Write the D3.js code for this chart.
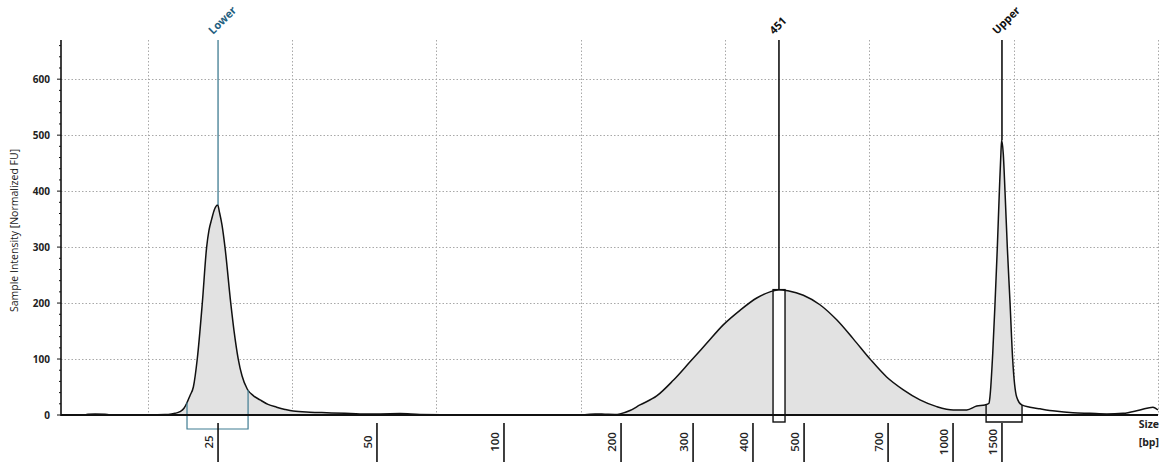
<!DOCTYPE html>
<html>
<head>
<meta charset="utf-8">
<script src="https://cdn.jsdelivr.net/npm/d3@7"></script>
<style>
  html, body { margin: 0; padding: 0; background: #fff; }
  svg { display: block; font-family: "Open Sans", "Noto Sans", sans-serif; }
</style>
</head>
<body>
<svg id="chart" width="1169" height="462"></svg>
<script>
// ---- Data (migration position in run units, intensity in normalized FU) ----
const traceX = [0.566,0.587,0.636,0.705,0.739,0.878,1.017,1.120,1.155,1.190,1.224,1.252,1.271,1.294,1.317,1.344,1.379,1.409,1.425,1.444,1.463,1.486,1.498,1.515,1.536,1.576,1.599,1.628,1.654,1.691,1.730,1.779,1.834,1.894,1.952,2.009,2.125,2.241,2.368,2.471,2.610,2.749,2.887,3.095,3.441,3.788,4.030,4.100,4.169,4.238,4.273,4.342,4.411,4.527,4.642,4.758,4.873,4.988,5.104,5.220,5.312,5.374,5.436,5.543,5.658,5.774,5.889,6.005,6.120,6.236,6.351,6.467,6.582,6.675,6.744,6.801,6.829,6.836,6.855,6.871,6.887,6.901,6.912,6.917,6.928,6.940,6.956,6.975,6.993,7.021,7.056,7.113,7.183,7.286,7.411,7.529,7.645,7.758,7.875,7.965,8.000];
const traceY = [0,1.5,2,1.5,0.5,0.5,0.5,1,1.5,3,6,12,21,35,50,100,200,300,330,350,367,375,362,340,300,200,150,100,70,46,35,27,19,14,10,7,5,4,3,2,2,2.5,1,0.5,0.5,0.5,0.5,2,1.5,1,2,8,18,34,62,95,128,161,187,209,220,224,222,214,197,170,136,100,68,45,27,15,9,9,16,18,21,33,110,200,300,400,470,491,467,400,300,200,100,32,18,14,11,7,4,3,2,3,9,14,9];

// Ladder: fragment size (bp) and its migration position
const ladderSizes = [25, 50, 100, 200, 300, 400, 500, 700, 1000, 1500];
const ladderPositions = [1.488, 2.589, 3.469, 4.280, 4.779, 5.194, 5.548, 6.130, 6.580, 6.919];

// Peaks and their integration regions
const peakNames = ["Lower", "451", "Upper"];
const peakPositions = [1.488, 5.374, 6.919];
const peakHeights = [375, 224, 491];
const regionStarts = [1.273, 5.333, 6.809];
const regionEnds = [1.696, 5.416, 7.058];

const yTicks = [0, 100, 200, 300, 400, 500, 600];
const gridPositions = [1, 2, 3, 4, 5, 6, 7, 8];
const yTitle = "Sample Intensity [Normalized FU]";

// ---- Layout ----
const svg = d3.select("#chart");
const pL = 61, pR = 1158, pT = 40, pB = 415;
const x = d3.scaleLinear().domain([0.4, 8.0]).range([pL, pR]);
const y = d3.scaleLinear().domain([0, 670]).range([pB, pT]);

const teal = "#3f7c92", tealText = "#1f6080", ink = "#111";

function interpTrace(p) {
  const i = d3.bisectLeft(traceX, p);
  if (i <= 0) return traceY[0];
  if (i >= traceX.length) return traceY[traceY.length - 1];
  const t = (p - traceX[i - 1]) / (traceX[i] - traceX[i - 1]);
  return traceY[i - 1] + t * (traceY[i] - traceY[i - 1]);
}

svg.append("rect").attr("width", 1169).attr("height", 462).attr("fill", "#fff");

// Grid
const grid = svg.append("g").attr("stroke", "#a8a8a8").attr("stroke-width", 1).attr("stroke-dasharray", "1.5,2");
grid.selectAll("line.h").data(yTicks.filter(d => d > 0)).join("line").attr("class", "h")
  .attr("x1", pL).attr("x2", pR)
  .attr("y1", d => Math.round(y(d)) + 0.5).attr("y2", d => Math.round(y(d)) + 0.5);
grid.selectAll("line.v").data(gridPositions).join("line").attr("class", "v")
  .attr("x1", d => Math.round(x(d)) + 0.5).attr("x2", d => Math.round(x(d)) + 0.5)
  .attr("y1", pT).attr("y2", pB);

// Trace area
const pts = traceX.map((d, i) => [d, traceY[i]]);
const fillPts = pts.filter(p => p[0] <= regionEnds[2] + 0.005);
svg.append("path").datum(fillPts)
  .attr("fill", "#e2e2e2")
  .attr("d", d3.area().x(d => x(d[0])).y0(y(0)).y1(d => y(d[1])).curve(d3.curveMonotoneX));

// Region for 451 (white box)
svg.append("rect")
  .attr("x", x(regionStarts[1])).attr("width", x(regionEnds[1]) - x(regionStarts[1]))
  .attr("y", y(interpTrace(peakPositions[1])))
  .attr("height", pB + 7 - y(interpTrace(peakPositions[1])))
  .attr("fill", "#fff").attr("stroke", ink).attr("stroke-width", 1.4);

// Trace line
svg.append("path").datum(pts)
  .attr("fill", "none").attr("stroke", ink).attr("stroke-width", 1.5)
  .attr("d", d3.line().x(d => x(d[0])).y(d => y(d[1])).curve(d3.curveMonotoneX));

// Brackets for Lower and Upper
[0, 2].forEach(k => {
  const col = k === 0 ? teal : ink;
  const yb = k === 0 ? pB + 14 : pB + 7;
  const xs = x(regionStarts[k]), xe = x(regionEnds[k]);
  svg.append("path")
    .attr("fill", "none").attr("stroke", col).attr("stroke-width", k === 0 ? 1.2 : 1.4)
    .attr("d", `M${xs},${y(interpTrace(regionStarts[k]))}V${yb}H${xe}V${y(interpTrace(regionEnds[k]))}`);
});

// x axis baseline
svg.append("line").attr("x1", pL).attr("x2", pR).attr("y1", pB).attr("y2", pB)
  .attr("stroke", ink).attr("stroke-width", 2);

// y axis
const yAxis = svg.append("g");
yAxis.append("line").attr("x1", pL).attr("x2", pL).attr("y1", pT).attr("y2", pB + 1)
  .attr("stroke", ink).attr("stroke-width", 1.6);
yAxis.selectAll("line.tk").data(d3.range(0, 661, 20)).join("line").attr("class", "tk")
  .attr("x1", d => pL - (d % 100 === 0 ? 4 : 2)).attr("x2", pL)
  .attr("y1", d => y(d)).attr("y2", d => y(d))
  .attr("stroke", ink).attr("stroke-width", 1);
yAxis.selectAll("text").data(yTicks).join("text")
  .attr("x", pL - 11).attr("y", d => y(d)).attr("dy", "0.35em")
  .attr("text-anchor", "end").attr("font-size", 10).attr("font-weight", 700).attr("fill", "#222")
  .text(d => d);
svg.append("text")
  .attr("transform", `translate(18,${(pT + pB) / 2 + 3}) rotate(-90)`)
  .attr("text-anchor", "middle").attr("font-size", 10.5).attr("fill", "#1a1a1a")
  .text(yTitle);

// x ladder ticks and labels
const xt = svg.append("g");
xt.selectAll("line").data(ladderPositions).join("line")
  .attr("x1", d => x(d)).attr("x2", d => x(d)).attr("y1", pB + 8).attr("y2", 462)
  .attr("stroke", ink).attr("stroke-width", 1.6);
xt.selectAll("text").data(ladderSizes).join("text")
  .attr("transform", (d, i) => `translate(${x(ladderPositions[i]) - 5},442) rotate(-90)`)
  .attr("text-anchor", "middle").attr("font-size", 11.5).attr("font-weight", 600).attr("fill", "#222")
  .text(d => d);
svg.append("text").attr("x", 1159).attr("y", 428).attr("text-anchor", "end")
  .attr("font-size", 10.5).attr("font-weight", 700).attr("fill", "#222").text("Size");
svg.append("text").attr("x", 1159).attr("y", 446).attr("text-anchor", "end")
  .attr("font-size", 10.5).attr("font-weight", 700).attr("fill", "#222").text("[bp]");

// Peak marker lines and labels
peakNames.forEach((name, i) => {
  const col = i === 0 ? teal : ink;
  const px = x(peakPositions[i]);
  svg.append("line").attr("x1", px).attr("x2", px).attr("y1", pT).attr("y2", y(peakHeights[i]))
    .attr("stroke", col).attr("stroke-width", i === 0 ? 1.3 : 1.6);
  svg.append("text")
    .attr("transform", `translate(${px - 5},${pT - 5}) rotate(-45)`)
    .attr("font-size", 11).attr("font-weight", 700)
    .attr("fill", i === 0 ? tealText : "#111")
    .text(name);
});
</script>
</body>
</html>
